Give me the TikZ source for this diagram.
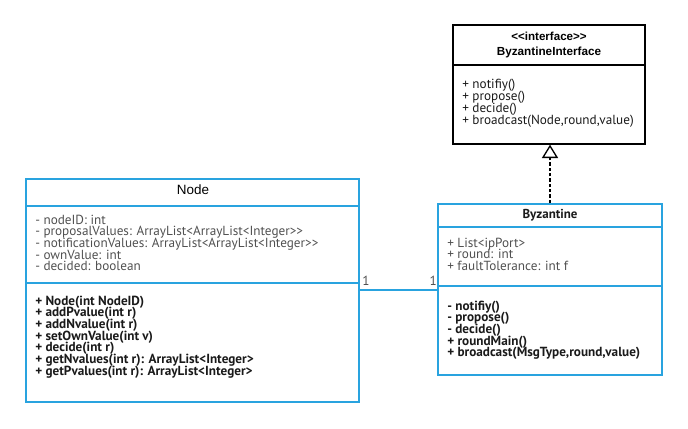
\documentclass[tikz,border=0pt]{standalone}
\usepackage{fontspec}
\newfontfamily\bodyfont{PT Sans}
\newfontfamily\headfont{Liberation Sans}
\usetikzlibrary{arrows.meta,fit}

\definecolor{umlblue}{HTML}{29A3DF}
\definecolor{attrgray}{HTML}{505050}
\definecolor{opdark}{HTML}{1A1A1A}

\tikzset{
    classbox/.style={draw=umlblue, line width=1.3pt, inner sep=0pt},
    ifacebox/.style={draw=black, line width=1pt, inner sep=0pt},
    attrline/.style={anchor=base west, inner sep=0pt, text=attrgray, font=\bodyfont\fontsize{9.9}{10}\selectfont},
    opline/.style={anchor=base west, inner sep=0pt, text=opdark, font=\bodyfont\fontsize{9.9}{10}\selectfont\bfseries},
    multlabel/.style={inner sep=0pt, text=attrgray, font=\bodyfont\fontsize{9.9}{10}\selectfont},
    realize/.style={draw=black, line width=1pt, dash pattern=on 2.5pt off 1.5pt,
        -{Triangle[open, width=12pt, length=10pt]}},
    assoc/.style={draw=umlblue, line width=1.3pt}
}

\begin{document}
\begin{tikzpicture}[x=0.75pt, y=-0.75pt]
    \useasboundingbox (0,0) rectangle (688,428);

    % Boxes of the three classes
    \coordinate (n1) at (26,179);  \coordinate (n2) at (359,402);
    \coordinate (b1) at (438,204); \coordinate (b2) at (662,375);
    \coordinate (i1) at (453,25);  \coordinate (i2) at (645,144);
    \node[classbox, fit=(n1)(n2)] (nodebox) {};
    \node[classbox, fit=(b1)(b2)] (byzbox) {};
    \node[ifacebox, fit=(i1)(i2)] (ifacebox) {};

    % Compartment dividers
    \foreach \y in {206, 283} {
        \draw[umlblue, line width=1.3pt] (nodebox.west |- 0,\y) -- (nodebox.east |- 0,\y);
    }
    \foreach \y in {227, 286} {
        \draw[umlblue, line width=1.3pt] (byzbox.west |- 0,\y) -- (byzbox.east |- 0,\y);
    }
    \draw[black, line width=1pt] (ifacebox.west |- 0,65) -- (ifacebox.east |- 0,65);

    % Class names
    \node[font=\headfont\fontsize{10.1}{11}\selectfont] (nodetitle) at (193,190) {Node};
    \node[font=\bodyfont\fontsize{9.7}{10}\selectfont\bfseries, text=opdark] (byztitle) at (550,215.5) {Byzantine};
    \node[font=\headfont\fontsize{8.7}{9}\selectfont\bfseries] (ifacestereo) at (549,36) {<<interface>>};
    \node[font=\headfont\fontsize{8.8}{9}\selectfont\bfseries] (ifacetitle) at (549,52) {ByzantineInterface};

    % Node attributes and operations
    \foreach \t [count=\i] in {- nodeID: int, - proposalValues: ArrayList<ArrayList<Integer>>,
        - notificationValues: ArrayList<ArrayList<Integer>>, - ownValue: int, - decided: boolean} {
        \node[attrline] (nodeattr-\i) at (35, 224+11.7*\i-11.7) {\t};
    }
    \foreach \t [count=\i] in {+ Node(int NodeID), + addPvalue(int r), + addNvalue(int r),
        + setOwnValue(int v), + decide(int r), + getNvalues(int r): ArrayList<Integer>,
        + getPvalues(int r): ArrayList<Integer>} {
        \node[opline] (nodeop-\i) at (35, 305+11.67*\i-11.67) {\t};
    }

    % Byzantine attributes and operations
    \foreach \t [count=\i] in {+ List<ipPort>, + round: int, + faultTolerance: int f} {
        \node[attrline] (byzattr-\i) at (447, 247+11.7*\i-11.7) {\t};
    }
    \foreach \t [count=\i] in {- notifiy(), - propose(), - decide(), + roundMain(),
        {+ broadcast(MsgType,round,value)}} {
        \node[opline] (byzop-\i) at (447, 310+11.7*\i-11.7) {\t};
    }

    % Interface operations
    \foreach \t [count=\i] in {+ notifiy(), + propose(), + decide(),
        {+ broadcast(Node,round,value)}} {
        \node[opline, font=\bodyfont\fontsize{9.9}{10}\selectfont] (ifaceop-\i) at (462, 89+11.7*\i-11.7) {\t};
    }

    % Association and realization
    \coordinate (assocy) at (0,290);
    \draw[assoc] (nodebox.east |- assocy) -- (byzbox.west |- assocy);
    \node[multlabel, anchor=base west] (multleft) at (362,285) {1};
    \node[multlabel, anchor=base east] (multright) at (437,285) {1};
    \draw[realize] (byzbox.north -| 550,0) -- (ifacebox.south -| 550,0);
\end{tikzpicture}
\end{document}
